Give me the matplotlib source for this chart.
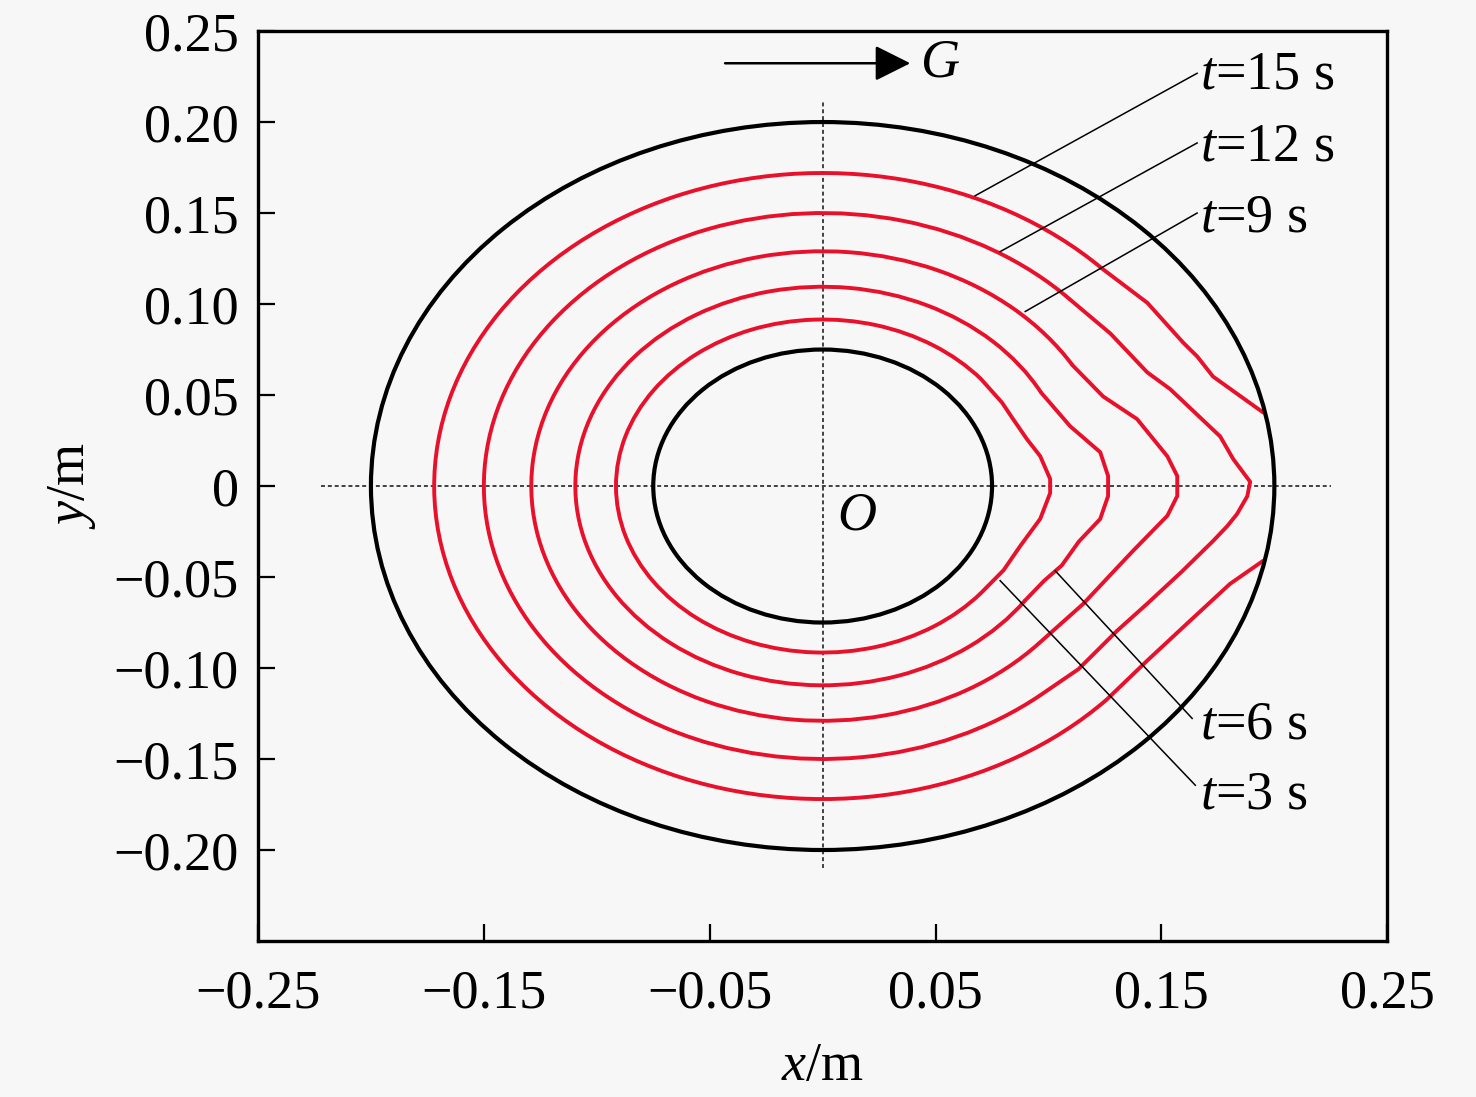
import numpy as np
import matplotlib
matplotlib.use("Agg")
import matplotlib.pyplot as plt
from matplotlib.patches import Circle, Arc

plt.rcParams["font.family"] = ["Liberation Serif", "DejaVu Serif"]
plt.rcParams["mathtext.fontset"] = "custom"
plt.rcParams["mathtext.rm"] = "Liberation Serif"
plt.rcParams["mathtext.it"] = "Liberation Serif:italic"

BG = "#f7f7f7"
RED = "#e8102a"
FS = 39

# pipe walls (radius, m)
outer_r = 0.20
inner_r = 0.075

# front contours: circular radius on the left, arc limits (deg),
# and polar points (deg, m) read on the right-hand side
t3_R, t3_arc = 0.0915, (40, 320)
t3_ang = [40, 30, 23.5, 16, 9.7, 2.2, -2.2, -10.6, -20.6, -30, -40]
t3_r = [0.0915, 0.0917, 0.092, 0.094, 0.0977, 0.1008, 0.1008, 0.098, 0.0935, 0.0925, 0.0915]

t6_R, t6_arc = 0.1095, (28, 325)
t6_ang = [28, 16.7, 8.6, 2.5, -2.5, -8.4, -15, -22.4, -28, -35]
t6_r = [0.1095, 0.1144, 0.1243, 0.1265, 0.1265, 0.1242, 0.1175, 0.1145, 0.111, 0.1095]

t9_R, t9_arc = 0.129, (31, 318)
t9_ang = [31, 21.6, 14.8, 6.1, 2.0, -2.0, -6.1, -14.5, -19.5, -29.3, -42]
t9_r = [0.129, 0.1336, 0.144, 0.1535, 0.1571, 0.1571, 0.1535, 0.142, 0.1375, 0.1323, 0.129]

t12_R, t12_arc = 0.150, (43, 310)
t12_ang = [43, 33.3, 23.5, 19.1, 8.8, 4.65, 0.7, -1.7, -4.8, -7.0, -9.9, -16.5,
           -24.2, -31.4, -41.6, -50]
t12_r = [0.150, 0.1525, 0.1567, 0.1628, 0.1781, 0.1824, 0.1893, 0.1881, 0.1841,
         0.1805, 0.1755, 0.1658, 0.1576, 0.1527, 0.1515, 0.150]

t15_R, t15_arc = 0.172, (44, 317)
t15_ang_up = [44, 35, 26.3, 23.2, 19.2, 11.7]
t15_r_up = [0.172, 0.1755, 0.178, 0.1805, 0.183, 0.1992]
t15_ang_lo = [-11.9, -16.6, -24.4, -33.7, -43]
t15_r_lo = [0.1993, 0.1882, 0.1788, 0.1728, 0.172]

# labels: text, leader line start (on curve) and end, label height
labels = ["$t$=15 s", "$t$=12 s", "$t$=9 s", "$t$=6 s", "$t$=3 s"]
lead_start = [(0.0675, 0.1595), (0.0786, 0.1288), (0.0897, 0.0959),
              (0.103, -0.0466), (0.0786, -0.052)]
lead_end = [(0.1658, 0.2268), (0.1658, 0.1885), (0.1658, 0.150),
            (0.1636, -0.1277), (0.165, -0.1644)]
label_y = [0.2258, 0.1863, 0.1474, -0.1315, -0.1699]

xticks = [-0.25, -0.15, -0.05, 0.05, 0.15, 0.25]
xtick_labels = ["\u22120.25", "\u22120.15", "\u22120.05", "0.05", "0.15", "0.25"]
yticks = [0.25, 0.20, 0.15, 0.10, 0.05, 0.0, -0.05, -0.10, -0.15, -0.20]
ytick_labels = ["0.25", "0.20", "0.15", "0.10", "0.05", "0",
                "\u22120.05", "\u22120.10", "\u22120.15", "\u22120.20"]


def polar_xy(ang, r):
    a = np.radians(ang)
    r = np.asarray(r)
    return r * np.cos(a), r * np.sin(a)


fig = plt.figure(figsize=(14.76, 10.97), dpi=100, facecolor=BG)
ax = fig.add_axes([0.1748, 0.1422, 0.7651, 0.8295])
ax.set_facecolor(BG)
ax.set_xlim(-0.25, 0.25)
ax.set_ylim(-0.25, 0.25)

# dotted centre lines
ax.plot([-0.222, 0.225], [0, 0], color="#333333", lw=1.3, ls=(0, (2.2, 1.6)), zorder=1)
ax.plot([0, 0], [-0.21, 0.212], color="#333333", lw=1.3, ls=(0, (2.2, 1.6)), zorder=1)

for rad in (outer_r, inner_r):
    ax.add_patch(Circle((0, 0), rad, fill=False, ec="black", lw=3.0, zorder=3))

LW = 2.8
curves = [(t3_R, t3_arc, t3_ang, t3_r), (t6_R, t6_arc, t6_ang, t6_r),
          (t9_R, t9_arc, t9_ang, t9_r), (t12_R, t12_arc, t12_ang, t12_r)]
for R, arc, ang, r in curves:
    ax.add_patch(Arc((0, 0), 2 * R, 2 * R, theta1=arc[0], theta2=arc[1],
                     ec=RED, lw=LW, zorder=2))
    x, y = polar_xy(ang, r)
    ax.plot(x, y, color=RED, lw=LW, solid_capstyle="round",
            solid_joinstyle="round", zorder=2)

ax.add_patch(Arc((0, 0), 2 * t15_R, 2 * t15_R, theta1=t15_arc[0], theta2=t15_arc[1],
                 ec=RED, lw=LW, zorder=2))
for ang, r in ((t15_ang_up, t15_r_up), (t15_ang_lo, t15_r_lo)):
    x, y = polar_xy(ang, r)
    ax.plot(x, y, color=RED, lw=LW, solid_capstyle="round",
            solid_joinstyle="round", zorder=2)

# leader lines and labels
for lab, s, e, ly in zip(labels, lead_start, lead_end, label_y):
    ax.plot([s[0], e[0]], [s[1], e[1]], color="black", lw=1.1, zorder=4)
    ax.text(0.167, ly, lab, fontsize=FS, ha="left", va="center", zorder=5)

# gravity arrow
ax.annotate("", xy=(0.0388, 0.2323), xytext=(-0.0432, 0.2323),
            arrowprops=dict(arrowstyle="-|>,head_length=1.1,head_width=0.55",
                            mutation_scale=20, lw=1.8, color="black",
                            shrinkA=0, shrinkB=0))
ax.text(0.052, 0.2323, "$G$", fontsize=FS, ha="center", va="center")
ax.text(0.0153, -0.0164, "$O$", fontsize=FS, ha="center", va="center")

ax.set_xticks(xticks, xtick_labels)
ax.set_yticks(yticks, ytick_labels)
ax.tick_params(direction="in", length=12, width=1.6, labelsize=FS,
               top=False, right=False)
ax.tick_params(axis="x", pad=20)
ax.tick_params(axis="y", pad=14)
for sp in ax.spines.values():
    sp.set_linewidth(2.4)

ax.set_xlabel("$x$/m", fontsize=FS)
ax.xaxis.set_label_coords(0.5, -0.1385)
ax.xaxis.label.set_va("center")
ax.set_ylabel("$y$/m", fontsize=FS)
ax.yaxis.set_label_coords(-0.1647, 0.5)
ax.yaxis.label.set_va("center")

fig.savefig("out.png", dpi=100, facecolor=BG)
